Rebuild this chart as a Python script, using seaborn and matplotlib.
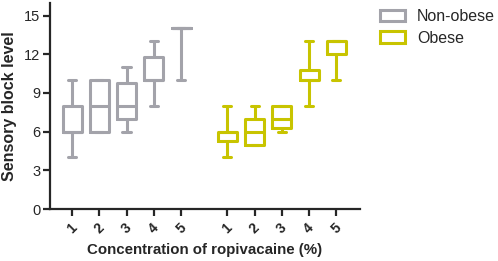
import matplotlib.pyplot as plt
import pandas as pd
import seaborn as sns
from matplotlib.patches import Patch

# Inputs: five-number summaries per concentration (min, q1, median, q3, max)
concentrations = ["1", "2", "3", "4", "5"]
groups = ["Non-obese", "Obese"]
group_offsets = [0.0, 5.7]

nonobese_min = [4, 6, 6, 8, 10]
nonobese_q1 = [6, 6, 7, 10, 14]
nonobese_med = [6, 8, 8, 10, 14]
nonobese_q3 = [8, 10, 9.75, 11.75, 14]
nonobese_max = [10, 10, 11, 13, 14]

obese_min = [4, 5, 6, 8, 10]
obese_q1 = [5.25, 5, 6.25, 10, 12]
obese_med = [6, 6, 7, 10, 13]
obese_q3 = [6, 7, 8, 10.75, 13]
obese_max = [8, 8, 8, 13, 13]

colors = ["#A3A3AA", "#C8C400"]
# Outputs
PATH_PLOT = "out.png"


def main():
    # build long table; five points reproduce the summary with linear quantiles
    rows = []
    summaries = [
        (nonobese_min, nonobese_q1, nonobese_med, nonobese_q3, nonobese_max),
        (obese_min, obese_q1, obese_med, obese_q3, obese_max),
    ]
    for group, offset, summary in zip(groups, group_offsets, summaries):
        for i, conc in enumerate(concentrations):
            for s in summary:
                rows.append({"pos": offset + i, "value": s[i], "group": group})
    df = pd.DataFrame(rows)

    # plot
    sns.set_theme(style="ticks")
    plt.rcParams["font.family"] = ["Liberation Sans", "DejaVu Sans"]
    fig = plt.figure(figsize=(4.98, 2.61), dpi=100)
    ax = fig.add_axes([0.1004, 0.199, 0.6226, 0.791])
    sns.boxplot(data=df, x="pos", y="value", hue="group", native_scale=True,
                dodge=False, fill=False, width=0.7, whis=(0, 100), linewidth=2.2,
                palette=colors, legend=False, capwidths=0.3, ax=ax)

    ax.set_xlim(-0.81, 10.57)
    ax.set_ylim(0, 16)
    ax.set_yticks([0, 3, 6, 9, 12, 15])
    ticks = [o + i for o in group_offsets for i in range(len(concentrations))]
    ax.set_xticks(ticks)
    ax.set_xticklabels(concentrations * 2, rotation=45, ha="center", fontsize=10,
                       fontweight="bold")
    ax.tick_params(axis="y", labelsize=10.5, width=1.6, length=5, pad=2)
    ax.tick_params(axis="x", width=1.6, length=5)
    for side in ["left", "bottom"]:
        ax.spines[side].set_linewidth(1.6)
    sns.despine(ax=ax)
    ax.set_xlabel("Concentration of ropivacaine (%)", fontsize=10.8,
                  fontweight="bold", labelpad=5)
    ax.set_ylabel("Sensory block level", fontsize=11.5, fontweight="bold", labelpad=5)

    handles = [Patch(facecolor="white", edgecolor=c, linewidth=2.2, label=g)
               for g, c in zip(groups, colors)]
    fig.legend(handles=handles, loc="upper left", bbox_to_anchor=(0.735, 1.02),
               frameon=False, fontsize=11.5, handlelength=1.55, handleheight=0.7,
               handletextpad=0.75, labelspacing=0.4)

    fig.savefig(PATH_PLOT, dpi=100)


if __name__ == '__main__':
    main()
